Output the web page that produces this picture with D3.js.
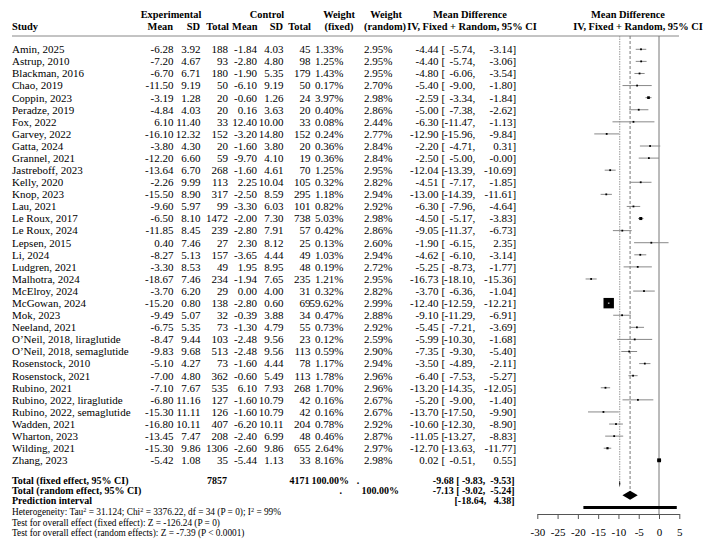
<!DOCTYPE html>
<html>
<head>
<meta charset="utf-8">
<script src="https://cdn.jsdelivr.net/npm/d3@7"></script>
<style>
  body { margin: 0; background: #fff; }
  svg text { font-family: "Liberation Serif", "Times New Roman", serif; fill: #000; }
</style>
</head>
<body>
<div id="chart"></div>
<script>
// study data
var studies = ["Amin, 2025", "Astrup, 2010", "Blackman, 2016", "Chao, 2019", "Coppin, 2023", "Peradze, 2019",
  "Fox, 2022", "Garvey, 2022", "Gatta, 2024", "Grannel, 2021", "Jastreboff, 2023", "Kelly, 2020", "Knop, 2023",
  "Lau, 2021", "Le Roux, 2017", "Le Roux, 2024", "Lepsen, 2015", "Li, 2024", "Ludgren, 2021", "Malhotra, 2024",
  "McElroy, 2024", "McGowan, 2024", "Mok, 2023", "Neeland, 2021", "O\u2019Neil, 2018, liraglutide",
  "O\u2019Neil, 2018, semaglutide", "Rosenstock, 2010", "Rosenstock, 2021", "Rubino, 2021",
  "Rubino, 2022, liraglutide", "Rubino, 2022, semaglutide", "Wadden, 2021", "Wharton, 2023", "Wilding, 2021",
  "Zhang, 2023"];
var expMean = [-6.28, -7.20, -6.70, -11.50, -3.19, -4.84, 6.10, -16.10, -3.80, -12.20, -13.64, -2.26, -15.50,
  -9.60, -6.50, -11.85, 0.40, -8.27, -3.30, -18.67, -3.70, -15.20, -9.49, -6.75, -8.47, -9.83, -5.10, -7.00,
  -7.10, -6.80, -15.30, -16.80, -13.45, -15.30, -5.42];
var expSD = [3.92, 4.67, 6.71, 9.19, 1.28, 4.03, 11.40, 12.32, 4.30, 6.60, 6.70, 9.99, 8.90, 5.97, 8.10, 8.45,
  7.46, 5.13, 8.53, 7.46, 6.20, 0.80, 5.07, 5.35, 9.44, 9.68, 4.27, 4.80, 7.67, 11.16, 11.11, 10.11, 7.47, 9.86, 1.08];
var expN = [188, 93, 180, 50, 20, 20, 33, 152, 20, 59, 268, 113, 317, 99, 1472, 239, 27, 157, 49, 234, 29, 138,
  32, 73, 103, 513, 73, 362, 535, 127, 126, 407, 208, 1306, 35];
var ctlMean = [-1.84, -2.80, -1.90, -6.10, -0.60, 0.16, 12.40, -3.20, -1.60, -9.70, -1.60, 2.25, -2.50, -3.30,
  -2.00, -2.80, 2.30, -3.65, 1.95, -1.94, 0.00, -2.80, -0.39, -1.30, -2.48, -2.48, -1.60, -0.60, 6.10, -1.60,
  -1.60, -6.20, -2.40, -2.60, -5.44];
var ctlSD = [4.03, 4.80, 5.35, 9.19, 1.26, 3.63, 10.00, 14.80, 3.80, 4.10, 4.61, 10.04, 8.59, 6.03, 7.30, 7.91,
  8.12, 4.44, 8.95, 7.65, 4.00, 0.60, 3.88, 4.79, 9.56, 9.56, 4.44, 5.49, 7.93, 10.79, 10.79, 10.11, 6.99, 9.86, 1.13];
var ctlN = [45, 98, 179, 50, 24, 20, 33, 152, 20, 19, 70, 105, 295, 101, 738, 57, 25, 49, 48, 235, 31, 69, 34,
  55, 23, 113, 78, 113, 268, 42, 42, 204, 48, 655, 33];
var wFixed = [1.33, 1.25, 1.43, 0.17, 3.97, 0.40, 0.08, 0.24, 0.36, 0.36, 1.25, 0.32, 1.18, 0.82, 5.03, 0.42,
  0.13, 1.03, 0.19, 1.21, 0.32, 59.62, 0.47, 0.73, 0.12, 0.59, 1.17, 1.78, 1.70, 0.16, 0.16, 0.78, 0.46, 2.64, 8.16];
var wRandom = [2.95, 2.95, 2.95, 2.70, 2.98, 2.86, 2.44, 2.77, 2.84, 2.84, 2.95, 2.82, 2.94, 2.92, 2.98, 2.86,
  2.60, 2.94, 2.72, 2.95, 2.82, 2.99, 2.88, 2.92, 2.59, 2.90, 2.94, 2.96, 2.96, 2.67, 2.67, 2.92, 2.87, 2.97, 2.98];
var md = [-4.44, -4.40, -4.80, -5.40, -2.59, -5.00, -6.30, -12.90, -2.20, -2.50, -12.04, -4.51, -13.00, -6.30,
  -4.50, -9.05, -1.90, -4.62, -5.25, -16.73, -3.70, -12.40, -9.10, -5.45, -5.99, -7.35, -3.50, -6.40, -13.20,
  -5.20, -13.70, -10.60, -11.05, -12.70, 0.02];
var ciLow = [-5.74, -5.74, -6.06, -9.00, -3.34, -7.38, -11.47, -15.96, -4.71, -5.00, -13.39, -7.17, -14.39,
  -7.96, -5.17, -11.37, -6.15, -6.10, -8.73, -18.10, -6.36, -12.59, -11.29, -7.21, -10.30, -9.30, -4.89, -7.53,
  -14.35, -9.00, -17.50, -12.30, -13.27, -13.63, -0.51];
var ciHigh = [-3.14, -3.06, -3.54, -1.80, -1.84, -2.62, -1.13, -9.84, 0.31, -0.00, -10.69, -1.85, -11.61, -4.64,
  -3.83, -6.73, 2.35, -3.14, -1.77, -15.36, -1.04, -12.21, -6.91, -3.69, -1.68, -5.40, -2.11, -5.27, -12.05,
  -1.40, -9.90, -8.90, -8.83, -11.77, 0.55];

// pooled results
var totalExpN = 7857, totalCtlN = 4171;
var fixedEst = [-9.68, -9.83, -9.53];
var randomEst = [-7.13, -9.02, -5.24];
var predInt = [-18.64, 4.38];
var xTicks = [-30, -25, -20, -15, -10, -5, 0, 5];
var notes = [
  ["Heterogeneity: Tau", "2", " = 31.124; Chi", "2", " = 3376.22, df = 34 (P = 0); I", "2", " = 99%"],
  ["Test for overall effect (fixed effect): Z = -126.24 (P = 0)"],
  ["Test for overall effect (random effects): Z = -7.39 (P < 0.0001)"]
];

var svgWidth = 724, svgHeight = 554;
var svg = d3.select("#chart").append("svg")
  .attr("width", svgWidth)
  .attr("height", svgHeight);

// number formatting keeps a plain hyphen and the "-0.00" look
function f2(v) {
  return (v < 0 || Object.is(v, -0) ? "-" : "") + Math.abs(v).toFixed(2);
}

var fs = 11, fsBold = 10.4;
var x = d3.scaleLinear().domain([-30, 5]).range([537.3, 679.3]);
var y = d3.scaleLinear().domain([0, 34]).range([49.3, 460.3]);
var yTop = 36;
var axisY = 514;

// header
var head = svg.append("g").attr("font-weight", "bold").attr("font-size", fsBold);
function htext(tx, ty, anchor, s) {
  head.append("text").attr("x", tx).attr("y", ty).attr("text-anchor", anchor).text(s);
}
htext(171, 18, "middle", "Experimental");
htext(267, 18, "middle", "Control");
htext(339, 18, "middle", "Weight");
htext(386, 18, "middle", "Weight");
htext(470, 18, "middle", "Mean Difference");
htext(628, 18, "middle", "Mean Difference");
htext(12, 29.5, "start", "Study");
htext(173, 29.5, "end", "Mean");
htext(200, 29.5, "end", "SD");
htext(229, 29.5, "end", "Total");
htext(257.5, 29.5, "end", "Mean");
htext(283, 29.5, "end", "SD");
htext(311, 29.5, "end", "Total");
htext(339, 29.5, "middle", "(fixed)");
htext(385, 29.5, "middle", "(random)");
htext(472, 29.5, "middle", "IV, Fixed + Random, 95% CI");
htext(638, 29.5, "middle", "IV, Fixed + Random, 95% CI");

svg.append("line")
  .attr("x1", 12).attr("x2", 679)
  .attr("y1", yTop).attr("y2", yTop)
  .attr("stroke", "#888").attr("stroke-width", 1);

// table rows
var rows = svg.append("g").attr("font-size", fs);
var cols = [
  {x: 12, anchor: "start", get: i => studies[i]},
  {x: 173.5, anchor: "end", get: i => f2(expMean[i])},
  {x: 200.5, anchor: "end", get: i => f2(expSD[i])},
  {x: 228, anchor: "end", get: i => expN[i]},
  {x: 257, anchor: "end", get: i => f2(ctlMean[i])},
  {x: 283.5, anchor: "end", get: i => f2(ctlSD[i])},
  {x: 310.5, anchor: "end", get: i => ctlN[i]},
  {x: 343.5, anchor: "end", get: i => f2(wFixed[i]) + "%"},
  {x: 392.5, anchor: "end", get: i => f2(wRandom[i]) + "%"},
  {x: 438.5, anchor: "end", get: i => f2(md[i])},
  {x: 441.5, anchor: "start", get: i => "["},
  {x: 472.5, anchor: "end", get: i => f2(ciLow[i])},
  {x: 472.5, anchor: "start", get: i => ","},
  {x: 512.5, anchor: "end", get: i => f2(ciHigh[i])},
  {x: 512.5, anchor: "start", get: i => "]"}
];
cols.forEach(function(c) {
  rows.selectAll(null)
    .data(d3.range(studies.length))
    .enter()
    .append("text")
    .attr("x", c.x)
    .attr("y", i => y(i))
    .attr("dy", "0.35em")
    .attr("text-anchor", c.anchor)
    .text(c.get);
});

// pooled rows
var tot = svg.append("g").attr("font-size", 10).attr("font-weight", "bold");
var yFixedTxt = y(35.7), yRandTxt = y(36.5), yPredTxt = y(37.3);
function ttext(tx, ty, anchor, s) {
  tot.append("text").attr("x", tx).attr("y", ty).attr("dy", "0.35em")
    .attr("text-anchor", anchor).attr("xml:space", "preserve").text(s);
}
ttext(12, yFixedTxt, "start", "Total (fixed effect, 95% CI)");
ttext(12, yRandTxt, "start", "Total (random effect, 95% CI)");
ttext(12, yPredTxt, "start", "Prediction interval");
ttext(227, yFixedTxt, "end", totalExpN);
ttext(309.5, yFixedTxt, "end", totalCtlN);
ttext(349, yFixedTxt, "end", "100.00%");
ttext(358, yFixedTxt, "middle", ".");
ttext(342, yRandTxt, "end", ".");
ttext(399, yRandTxt, "end", "100.00%");
ttext(514.5, yFixedTxt, "end", f2(fixedEst[0]) + " [ " + f2(fixedEst[1]) + ",  " + f2(fixedEst[2]) + "]");
ttext(514.5, yRandTxt, "end", f2(randomEst[0]) + " [ " + f2(randomEst[1]) + ",  " + f2(randomEst[2]) + "]");
ttext(514.5, yPredTxt, "end", "[" + f2(predInt[0]) + ",   " + f2(predInt[1]) + "]");

// footnotes
var foot = svg.append("g").attr("font-size", 9.3);
notes.forEach(function(parts, k) {
  var t = foot.append("text").attr("x", 12).attr("y", 515 + k * 10.6);
  parts.forEach(function(p, j) {
    var sp = t.append("tspan").text(p);
    if (j % 2 === 1) sp.attr("font-size", 6.3).attr("baseline-shift", "super");
  });
});

// plot: reference lines
var yFixedMark = y(35.95), yRandMark = y(36.9), yPredMark = y(37.9);
svg.append("line")
  .attr("x1", x(0)).attr("x2", x(0))
  .attr("y1", yTop).attr("y2", axisY)
  .attr("stroke", "#777").attr("stroke-width", 1);
svg.append("line")
  .attr("x1", x(fixedEst[0])).attr("x2", x(fixedEst[0]))
  .attr("y1", yTop).attr("y2", yFixedMark)
  .attr("stroke", "#999").attr("stroke-width", 1).attr("stroke-dasharray", "1.5,1");
svg.append("line")
  .attr("x1", x(randomEst[0])).attr("x2", x(randomEst[0]))
  .attr("y1", yTop).attr("y2", yRandMark)
  .attr("stroke", "#777").attr("stroke-width", 1).attr("stroke-dasharray", "3,2");

// study CIs and squares
var plot = svg.append("g");
plot.selectAll(".ci")
  .data(d3.range(studies.length))
  .enter()
  .append("line")
  .attr("class", "ci")
  .attr("x1", i => x(ciLow[i]))
  .attr("x2", i => x(ciHigh[i]))
  .attr("y1", i => y(i))
  .attr("y2", i => y(i))
  .attr("stroke", "#888")
  .attr("stroke-width", 1);

var side = i => Math.max(1.8, 1.35 * Math.sqrt(wFixed[i]));
plot.selectAll(".sq")
  .data(d3.range(studies.length))
  .enter()
  .append("rect")
  .attr("class", "sq")
  .attr("x", i => x(md[i]) - side(i) / 2)
  .attr("y", i => y(i) - side(i) / 2)
  .attr("width", side)
  .attr("height", side)
  .attr("fill", "#000");

// CI inside big square shows white
plot.selectAll(".ciIn")
  .data(d3.range(studies.length).filter(i => x(ciHigh[i]) - x(ciLow[i]) < side(i)))
  .enter()
  .append("line")
  .attr("x1", i => x(ciLow[i]))
  .attr("x2", i => x(ciHigh[i]))
  .attr("y1", i => y(i))
  .attr("y2", i => y(i))
  .attr("stroke", "#fff")
  .attr("stroke-width", 1);

// diamonds
function diamond(est, cy, h) {
  return "M" + x(est[1]) + "," + cy + "L" + x(est[0]) + "," + (cy - h / 2) +
    "L" + x(est[2]) + "," + cy + "L" + x(est[0]) + "," + (cy + h / 2) + "Z";
}
plot.append("path").attr("d", diamond(fixedEst, yFixedMark, 7)).attr("fill", "#000");
plot.append("path").attr("d", diamond(randomEst, yRandMark, 9)).attr("fill", "#000");
plot.append("line")
  .attr("x1", x(predInt[0])).attr("x2", x(predInt[1]))
  .attr("y1", yPredMark).attr("y2", yPredMark)
  .attr("stroke", "#000").attr("stroke-width", 3);

// axis
var xAxis = svg.append("g")
  .attr("transform", `translate(0, ${axisY})`)
  .call(d3.axisBottom(x).tickValues(xTicks).tickSize(5).tickSizeOuter(0).tickPadding(9)
    .tickFormat(d => String(d)));
xAxis.select(".domain").attr("stroke", "#555");
xAxis.selectAll(".tick line").attr("stroke", "#555");
xAxis.selectAll("text")
  .attr("font-family", "Liberation Serif, Times New Roman, serif")
  .attr("font-size", fs)
  .attr("fill", "#000");
</script>
</body>
</html>
